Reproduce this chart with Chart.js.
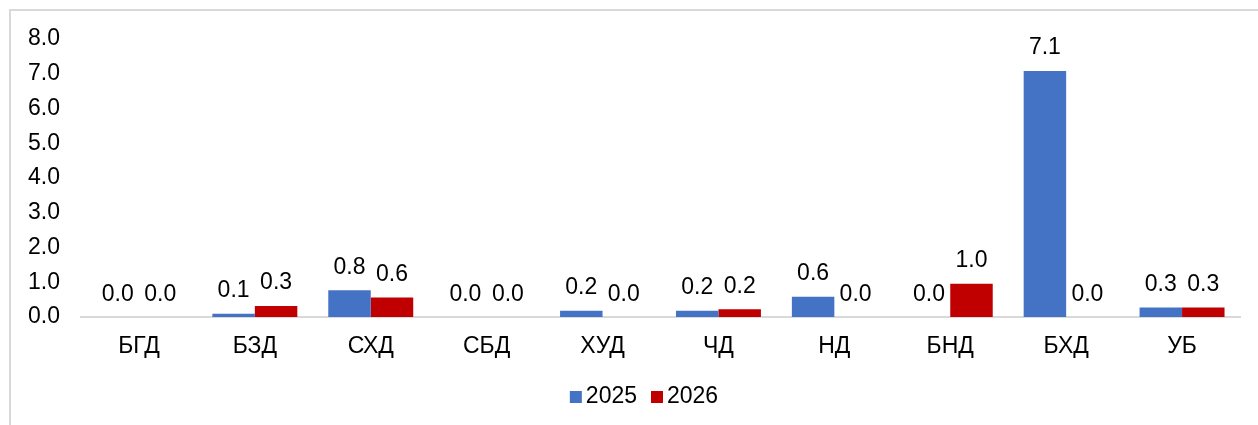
<!DOCTYPE html>
<html>
<head>
<meta charset="utf-8">
<script src="https://cdn.jsdelivr.net/npm/chart.js@4.4.0/dist/chart.umd.min.js"></script>
<style>
    body { margin: 0; overflow: hidden; background: #fff; }
    .wrap { position: relative; width: 1258px; height: 425px; }
    .frame {
        position: absolute; left: 9px; top: 9px; width: 1400px; height: 600px;
        border-left: 2px solid #d9d9d9; border-top: 2px solid #d9d9d9;
    }
    canvas { position: absolute; left: 0; top: 0; }
</style>
</head>
<body>
<div class="wrap">
    <div class="frame"></div>
    <canvas id="chart"></canvas>
</div>
<script>
// Data
const categories = ['БГД', 'БЗД', 'СХД', 'СБД', 'ХУД', 'ЧД', 'НД', 'БНД', 'БХД', 'УБ'];
const values2025 = [0, 0.09, 0.77, 0, 0.18, 0.18, 0.58, 0, 7.08, 0.27];
const values2026 = [0, 0.32, 0.56, 0, 0, 0.22, 0, 0.96, 0, 0.27];
const seriesNames = ['2025', '2026'];
const yTicks = [0, 1, 2, 3, 4, 5, 6, 7, 8];

const FONT = '"Liberation Sans", Arial, sans-serif';

// Value labels above each bar
const valueLabels = {
    id: 'valueLabels',
    afterDatasetsDraw(chart) {
        const ctx = chart.ctx;
        ctx.save();
        ctx.font = '23px ' + FONT;
        ctx.fillStyle = '#000';
        ctx.textAlign = 'center';
        ctx.textBaseline = 'alphabetic';
        chart.data.datasets.forEach((ds, i) => {
            chart.getDatasetMeta(i).data.forEach((bar, j) => {
                ctx.fillText(ds.data[j].toFixed(1), bar.x, bar.y - 16.5);
            });
        });
        ctx.restore();
    }
};

// Legend drawn by hand (tight gap between box and text)
const bottomLegend = {
    id: 'bottomLegend',
    afterDraw(chart) {
        const ctx = chart.ctx;
        ctx.save();
        ctx.font = '23px ' + FONT;
        ctx.textBaseline = 'middle';
        ctx.textAlign = 'left';
        const box = 12, gap = 4, spacing = 14;
        const items = chart.data.datasets.map(ds => ({
            label: ds.label, color: ds.backgroundColor, w: ctx.measureText(ds.label).width
        }));
        let total = items.reduce((s, it) => s + box + gap + it.w, 0) + spacing * (items.length - 1);
        let x = 644 - total / 2;
        const y = 397;
        items.forEach(it => {
            ctx.fillStyle = it.color;
            ctx.fillRect(x, y - box / 2, box, box);
            ctx.fillStyle = '#000';
            ctx.fillText(it.label, x + box + gap, y);
            x += box + gap + it.w + spacing;
        });
        ctx.restore();
    }
};

document.addEventListener('DOMContentLoaded', function() {
    const ctx = document.getElementById('chart').getContext('2d');
    new Chart(ctx, {
        type: 'bar',
        data: {
            labels: categories,
            datasets: [{
                label: seriesNames[0],
                data: values2025,
                backgroundColor: '#4472C4',
                barPercentage: 1,
                categoryPercentage: 0.733
            }, {
                label: seriesNames[1],
                data: values2026,
                backgroundColor: '#C00000',
                barPercentage: 1,
                categoryPercentage: 0.733
            }]
        },
        options: {
            responsive: true,
            maintainAspectRatio: false,
            animation: false,
            layout: {
                padding: { top: 39, right: 18, bottom: 50, left: 0 }
            },
            plugins: {
                legend: { display: false },
                tooltip: { enabled: false }
            },
            scales: {
                x: {
                    grid: { display: false, drawTicks: false },
                    border: { display: true, color: '#d9d9d9', width: 2 },
                    ticks: {
                        color: '#000',
                        font: { family: FONT, size: 23 },
                        padding: 16,
                        maxRotation: 0,
                        autoSkip: false
                    },
                    afterFit(scale) { scale.height = 425 - 317 - 50; }
                },
                y: {
                    min: yTicks[0],
                    max: yTicks[yTicks.length - 1],
                    grid: { display: false, drawTicks: false },
                    border: { display: false },
                    afterBuildTicks(scale) {
                        scale.ticks = yTicks.map(v => ({ value: v }));
                    },
                    ticks: {
                        color: '#000',
                        font: { family: FONT, size: 23 },
                        padding: 21,
                        callback: v => Number(v).toFixed(1)
                    },
                    afterFit(scale) { scale.width = 81; }
                }
            }
        },
        plugins: [valueLabels, bottomLegend]
    });
});
</script>
</body>
</html>
